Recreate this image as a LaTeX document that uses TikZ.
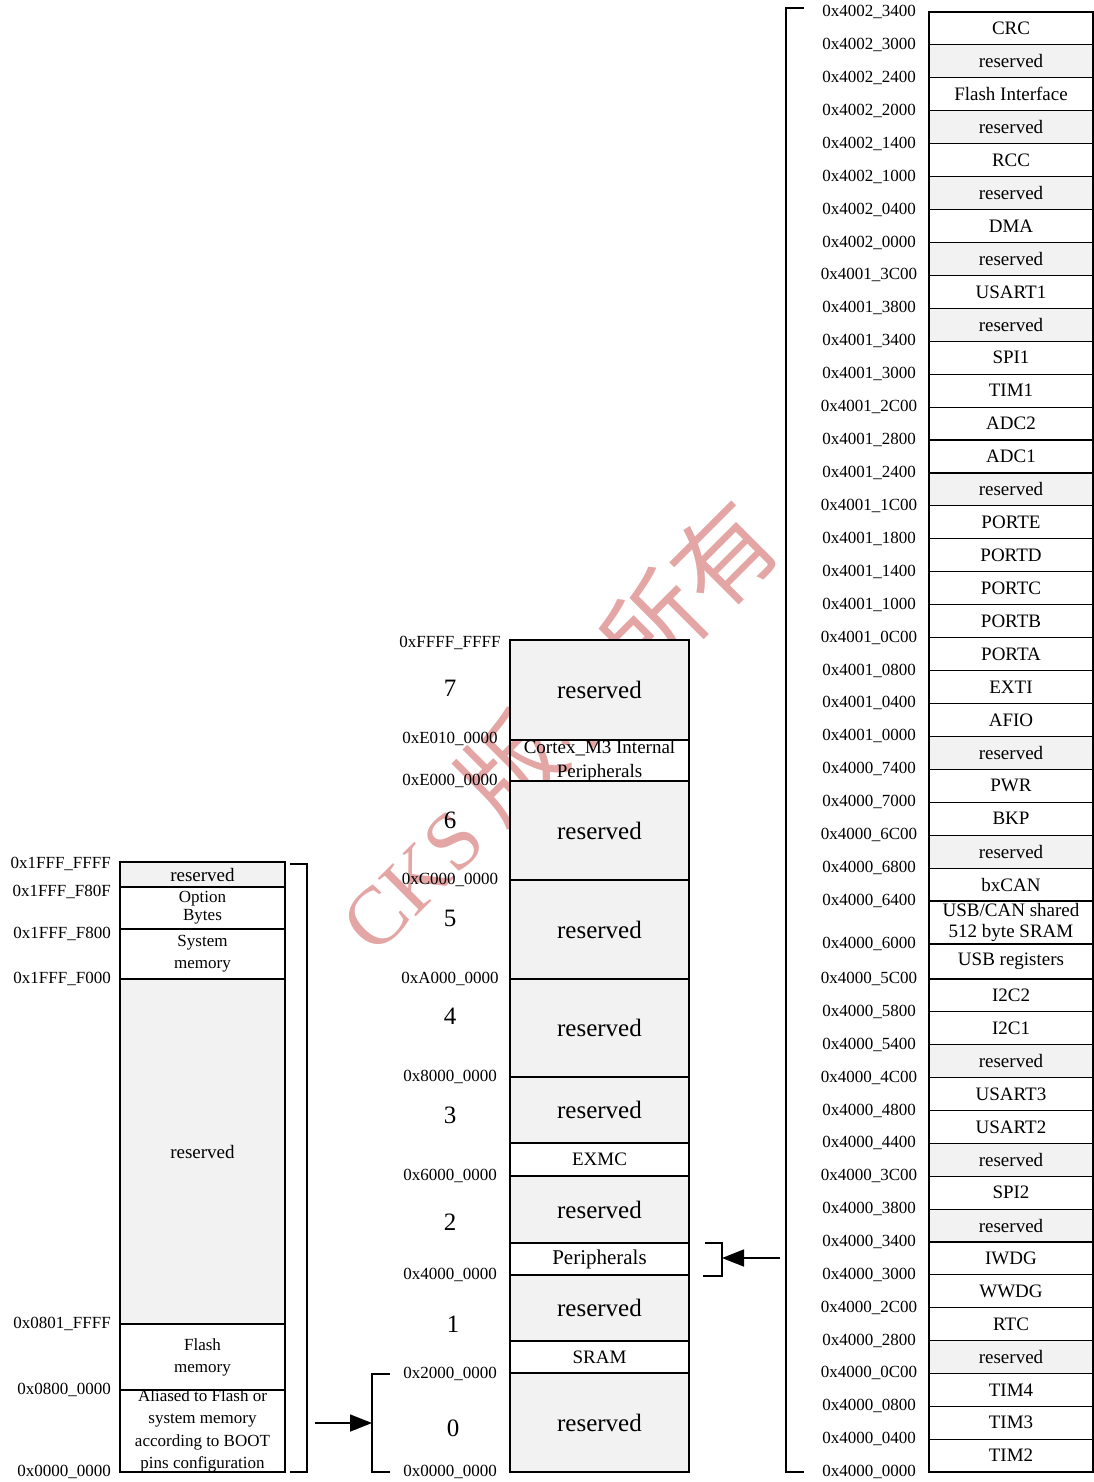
\documentclass[tikz,border=0pt]{standalone}
\usepackage{fontspec}
\setmainfont{Liberation Serif}
\newfontfamily\cjkwm{Noto Sans CJK SC}
\usetikzlibrary{arrows.meta}
\definecolor{cellgrey}{HTML}{F2F2F2}
\definecolor{wmred}{RGB}{228,165,165}
\begin{document}
\begin{tikzpicture}[x=1pt,y=-1pt,
  cellbox/.style={draw=black,line width=1.1pt},
  greycell/.style={cellbox,fill=cellgrey},
  whitecell/.style={cellbox},
  addr/.style={font=\fontsize{17}{20}\selectfont,inner sep=0pt},
  celltext/.style={inner sep=0pt,align=center},
  bracketline/.style={draw=black,line width=2pt},
  arrowline/.style={draw=black,line width=1.6pt,-{Triangle[length=22pt,width=17pt]}}
]
\useasboundingbox (0,0) rectangle (1094,1482);

% watermark
\node[rotate=45,text=wmred,inner sep=0pt] (wm) at (554,725)
  {\fontsize{82}{82}\selectfont CKS \fontsize{100}{100}\selectfont\cjkwm 版权所有};

% ---------------- left column ----------------
\path[greycell]  (120,862) rectangle (285,887);
\path[whitecell] (120,887) rectangle (285,929);
\path[whitecell] (120,929) rectangle (285,979);
\path[greycell]  (120,979) rectangle (285,1324);
\path[whitecell] (120,1324) rectangle (285,1390);
\path[whitecell] (120,1390) rectangle (285,1472);
\node[celltext,font=\fontsize{19}{22}\selectfont] (l1) at (202.5,874.5) {reserved};
\node[celltext,font=\fontsize{17}{18}\selectfont] (l2) at (202.5,908) {Option\\Bytes};
\node[celltext,font=\fontsize{17}{22}\selectfont] (l3) at (202.5,954) {System\\memory};
\node[celltext,font=\fontsize{19}{22}\selectfont] (l4) at (202.5,1151.5) {reserved};
\node[celltext,font=\fontsize{17}{22}\selectfont] (l5) at (202.5,1357) {Flash\\memory};
\node[celltext,font=\fontsize{17}{22.5}\selectfont] (l6) at (202.5,1431) {Aliased to Flash or\\system memory\\according to BOOT\\pins configuration};

\foreach \y/\txt [count=\i] in {864/0x1FFF\_FFFF,892/0x1FFF\_F80F,934/0x1FFF\_F800,979/0x1FFF\_F000,1324/0x0801\_FFFF,1390/0x0800\_0000,1472/0x0000\_0000}
  \node[addr,anchor=east] (la\i) at (111,\y) {\txt};

% ---------------- middle column ----------------
\foreach \t/\b/\txt/\f/\s [count=\i] in {
  640/740/reserved/greycell/25,
  740/781/{Cortex\_M3 Internal\\Peripherals}/whitecell/19,
  781/880/reserved/greycell/25,
  880/979/reserved/greycell/25,
  979/1077/reserved/greycell/25,
  1077/1143/reserved/greycell/25,
  1143/1176/EXMC/whitecell/19,
  1176/1243/reserved/greycell/25,
  1243/1275/Peripherals/whitecell/21,
  1275/1341/reserved/greycell/25,
  1341/1373/SRAM/whitecell/19,
  1373/1472/reserved/greycell/25}
{
  \path[\f] (510,\t) rectangle (689,\b);
  \node[celltext,font=\fontsize{\s}{24}\selectfont] (m\i) at (599.5,{(\t+\b)/2}) {\txt};
}
\foreach \y/\txt [count=\i] in {643/0xFFFF\_FFFF,739/0xE010\_0000,781/0xE000\_0000,880/0xC000\_0000,979/0xA000\_0000,1077/0x8000\_0000,1176/0x6000\_0000,1275/0x4000\_0000,1374/0x2000\_0000,1472/0x0000\_0000}
  \node[addr] (ma\i) at (450,\y) {\txt};
\foreach \x/\y/\txt [count=\i] in {450/688/7,450/820/6,450/918/5,450/1016/4,450/1115/3,450/1222/2,453/1324/1,453/1428/0}
  \node[inner sep=0pt,font=\fontsize{25}{25}\selectfont] (mn\i) at (\x,\y) {\txt};

% ---------------- right column ----------------
\foreach \t/\b/\txt/\f [count=\i] in {
  12/44.9/CRC/whitecell,
  44.9/77.9/reserved/greycell,
  77.9/110.8/Flash Interface/whitecell,
  110.8/143.7/reserved/greycell,
  143.7/176.6/RCC/whitecell,
  176.6/209.6/reserved/greycell,
  209.6/242.5/DMA/whitecell,
  242.5/275.4/reserved/greycell,
  275.4/308.3/USART1/whitecell,
  308.3/341.3/reserved/greycell,
  341.3/374.2/SPI1/whitecell,
  374.2/407.1/TIM1/whitecell,
  407.1/440.0/ADC2/whitecell,
  440.0/473.0/ADC1/whitecell,
  473.0/505.9/reserved/greycell,
  505.9/538.8/PORTE/whitecell,
  538.8/571.7/PORTD/whitecell,
  571.7/604.7/PORTC/whitecell,
  604.7/637.6/PORTB/whitecell,
  637.6/670.5/PORTA/whitecell,
  670.5/703.4/EXTI/whitecell,
  703.4/736.4/AFIO/whitecell,
  736.4/769.3/reserved/greycell,
  769.3/802.2/PWR/whitecell,
  802.2/835.1/BKP/whitecell,
  835.1/868.1/reserved/greycell,
  868.1/901/bxCAN/whitecell,
  901/944/{USB/CAN shared\\512 byte SRAM}/whitecell,
  944/979/USB registers/whitecell,
  979/1011.9/I2C2/whitecell,
  1011.9/1044.7/I2C1/whitecell,
  1044.7/1077.6/reserved/greycell,
  1077.6/1110.5/USART3/whitecell,
  1110.5/1143.3/USART2/whitecell,
  1143.3/1176.2/reserved/greycell,
  1176.2/1209.1/SPI2/whitecell,
  1209.1/1242/reserved/greycell,
  1242/1274.8/IWDG/whitecell,
  1274.8/1307.7/WWDG/whitecell,
  1307.7/1340.6/RTC/whitecell,
  1340.6/1373.4/reserved/greycell,
  1373.4/1406.3/TIM4/whitecell,
  1406.3/1439.2/TIM3/whitecell,
  1439.2/1472/TIM2/whitecell}
{
  \path[\f] (929,\t) rectangle (1093,\b);
  \node[celltext,font=\fontsize{19}{21}\selectfont] (r\i) at (1011,{(\t+\b)/2}) {\txt};
}
\foreach \y/\txt [count=\i] in {
  12/0x4002\_3400, 44.9/0x4002\_3000, 77.9/0x4002\_2400, 110.8/0x4002\_2000,
  143.7/0x4002\_1400, 176.6/0x4002\_1000, 209.6/0x4002\_0400, 242.5/0x4002\_0000,
  275.4/0x4001\_3C00, 308.3/0x4001\_3800, 341.3/0x4001\_3400, 374.2/0x4001\_3000,
  407.1/0x4001\_2C00, 440.0/0x4001\_2800, 473.0/0x4001\_2400, 505.9/0x4001\_1C00,
  538.8/0x4001\_1800, 571.7/0x4001\_1400, 604.7/0x4001\_1000, 637.6/0x4001\_0C00,
  670.5/0x4001\_0800, 703.4/0x4001\_0400, 736.4/0x4001\_0000, 769.3/0x4000\_7400,
  802.2/0x4000\_7000, 835.1/0x4000\_6C00, 868.1/0x4000\_6800, 901/0x4000\_6400,
  944/0x4000\_6000, 979/0x4000\_5C00, 1011.9/0x4000\_5800, 1044.7/0x4000\_5400,
  1077.6/0x4000\_4C00, 1110.5/0x4000\_4800, 1143.3/0x4000\_4400, 1176.2/0x4000\_3C00,
  1209.1/0x4000\_3800, 1242/0x4000\_3400, 1274.8/0x4000\_3000, 1307.7/0x4000\_2C00,
  1340.6/0x4000\_2800, 1373.4/0x4000\_0C00, 1406.3/0x4000\_0800, 1439.2/0x4000\_0400,
  1472/0x4000\_0000}
  \node[addr] (ra\i) at (869,\y) {\txt};

% ---------------- brackets and arrows ----------------
\coordinate (lbt) at (290,864);
\coordinate (lbb) at (290,1472);
\path[bracketline] (lbt) -- (307,864) -- (307,1472) -- (lbb);

\coordinate (zbt) at (390,1374);
\coordinate (zbb) at (390,1472);
\coordinate (zbm) at (372,1423);
\path[bracketline] (zbt) -- (372,1374) -- (372,1472) -- (zbb);

\coordinate (pbt) at (705,1243);
\coordinate (pbb) at (703,1276);
\coordinate (pbm) at (722,1258);
\path[bracketline] (pbt) -- (722,1243) -- (722,1276) -- (pbb);

\coordinate (rbt) at (804,8);
\coordinate (rbb) at (804,1472);
\path[bracketline] (rbt) -- (786,8) -- (786,1472) -- (rbb);

\coordinate (a1s) at (315,1423);
\coordinate (a2s) at (780,1258);
\path[arrowline] (a1s) -- (zbm);
\path[arrowline] (a2s) -- (pbm);
\end{tikzpicture}
\end{document}
